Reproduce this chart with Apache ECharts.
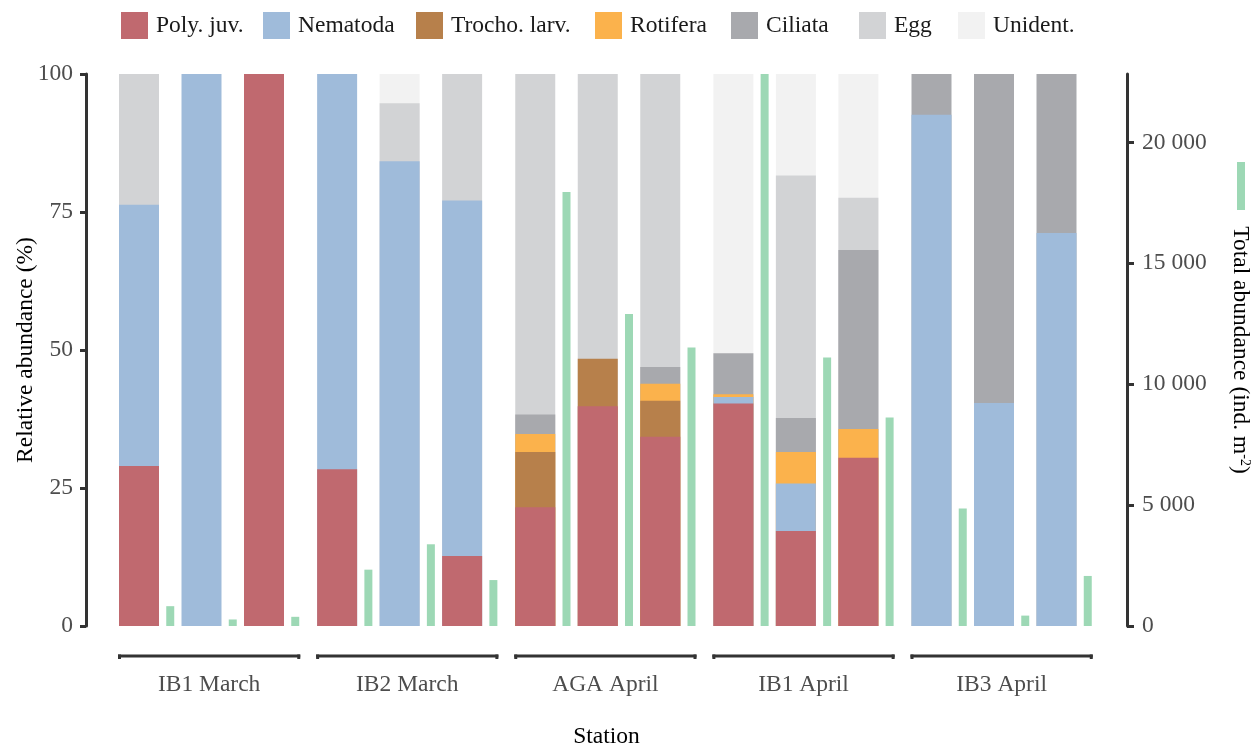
<!DOCTYPE html>
<html>
<head>
<meta charset="utf-8">
<script src="https://cdn.jsdelivr.net/npm/echarts@6/dist/echarts.min.js"></script>
<style>
html,body{margin:0;padding:0;background:#fff;overflow:hidden;}
#chart{width:1260px;height:747px;}
</style>
</head>
<body>
<div id="chart"></div>
<script>
// ---- data ----
const stations = ['IB1 March', 'IB2 March', 'AGA April', 'IB1 April', 'IB3 April'];
const replicatesPerStation = 3;
const taxa = ['Poly. juv.', 'Nematoda', 'Trocho. larv.', 'Rotifera', 'Ciliata', 'Egg', 'Unident.'];
// relative abundance (%) per bar, station-major (3 replicates each)
const polyJuv   = [29.0, 0, 100,   28.4, 0, 12.7,   21.5, 39.8, 34.3,   40.3, 17.2, 30.5,   0, 0, 0];
const nematoda  = [47.3, 100, 0,   71.6, 84.2, 64.4, 0, 0, 0,           1.2, 8.6, 0,        92.6, 40.4, 71.2];
const trocho    = [0, 0, 0,        0, 0, 0,          10.0, 8.6, 6.5,    0, 0, 0,            0, 0, 0];
const rotifera  = [0, 0, 0,        0, 0, 0,          3.3, 0, 3.1,       0.5, 5.7, 5.2,      0, 0, 0];
const ciliata   = [0, 0, 0,        0, 0, 0,          3.5, 0, 3.0,       7.4, 6.2, 32.4,     7.4, 59.6, 28.8];
const egg       = [23.7, 0, 0,     0, 10.5, 22.9,    61.7, 51.6, 53.1,  0, 43.9, 9.5,       0, 0, 0];
const unident   = [0, 0, 0,        0, 5.3, 0,        0, 0, 0,           50.6, 18.4, 22.5,   0, 0, 0];
// total abundance (ind. m-2)
const totalAbundance = [820, 270, 380, 2330, 3380, 1900, 17950, 12900, 11520, 22830, 11100, 8620, 4860, 430, 2070];
const rightTicks = [0, 5000, 10000, 15000, 20000];
const leftTicks = [0, 25, 50, 75, 100];

// ---- styles / layout ----
const taxaValues = [polyJuv, nematoda, trocho, rotifera, ciliata, egg, unident];
const taxaColors = ['#C0696F', '#9FBBDA', '#B7804B', '#FBB24C', '#A8A9AD', '#D2D3D5', '#F2F2F2'];
const legendLefts = [121, 263, 416, 595, 731, 859, 958];
const greenColor = '#9DD8B5';
const FONT = 'Liberation Serif';
const FS = 23.5;
const UNIT = 1000;               // axis units per replicate slot
const GROUP_PITCH = 3170;        // axis units between station groups
const GREEN_OFFSET = 500;        // stacked bar -> total bar
const BAR_W = 40, GREEN_W = 8;
const X_MIN = -848, X_MAX = 15808;

function pos(i) {
  const g = Math.floor(i / replicatesPerStation), r = i % replicatesPerStation;
  return g * GROUP_PITCH + r * UNIT;
}
const fmtThousands = v => String(v).replace(/\B(?=(\d{3})+(?!\d))/g, ' ');
const totalMax = Math.max(...totalAbundance);

// cumulative tops of each layer (stack built from the taxa arrays)
const cumulative = [];
taxaValues.forEach((arr, k) => {
  cumulative.push(arr.map((v, i) => v + (k > 0 ? cumulative[k - 1][i] : 0)));
});

// draw from the top layer down so lower layers paint over; all overlap in one column
const series = [];
for (let k = taxa.length - 1; k >= 0; k--) {
  series.push({
    name: taxa[k],
    type: 'bar',
    xAxisIndex: 0,
    yAxisIndex: 0,
    barWidth: BAR_W,
    barGap: '-100%',
    itemStyle: { color: taxaColors[k] },
    emphasis: { disabled: true },
    data: cumulative[k].map((v, i) => [pos(i), taxaValues[k][i] > 0 ? v : '-'])
  });
}

series.push({
  name: 'Total abundance',
  type: 'bar',
  xAxisIndex: 1,
  yAxisIndex: 1,
  barWidth: GREEN_W,
  itemStyle: { color: greenColor },
  emphasis: { disabled: true },
  data: totalAbundance.map((v, i) => [pos(i) + GREEN_OFFSET, v])
});

// brackets + station labels under each group
series.push({
  type: 'custom',
  xAxisIndex: 1,
  yAxisIndex: 0,
  clip: false,
  silent: true,
  data: stations.map((s, g) => [X_MIN, 0, g]),
  renderItem: function (params, api) {
    const g = api.value(2);
    const first = g * replicatesPerStation, last = first + replicatesPerStation - 1;
    const p0 = api.coord([pos(first), 0]);
    const p1 = api.coord([pos(last) + GREEN_OFFSET, 0]);
    const x1 = p0[0] - BAR_W / 2 - 1;
    const x2 = p1[0] + GREEN_W / 2 + 1;
    const y = p0[1] + 30;
    const ls = { stroke: '#333333', lineWidth: 3 };
    return {
      type: 'group',
      children: [
        { type: 'line', shape: { x1: x1, y1: y, x2: x2, y2: y }, style: ls },
        { type: 'line', shape: { x1: x1 + 1.5, y1: y - 1.5, x2: x1 + 1.5, y2: y + 3 }, style: ls },
        { type: 'line', shape: { x1: x2 - 1.5, y1: y - 1.5, x2: x2 - 1.5, y2: y + 3 }, style: ls },
        { type: 'text', x: (x1 + x2) / 2, y: y + 29,
          style: { text: stations[g], font: FS + 'px "' + FONT + '"', fill: '#4D4D4D', align: 'center', verticalAlign: 'middle' } }
      ]
    };
  }
});

const legends = taxa.map((name, k) => ({
  data: [name],
  left: legendLefts[k], top: 12,
  padding: 0,
  itemWidth: 27, itemHeight: 27,
  icon: 'rect',
  selectedMode: false,
  textStyle: { fontSize: FS, fontFamily: FONT, color: '#1A1A1A', padding: [0, 0, 0, 3] }
}));
legends.push({
  data: ['Total abundance'],
  left: 1237, top: 162,
  padding: 0,
  itemWidth: 8, itemHeight: 48,
  icon: 'rect',
  selectedMode: false,
  formatter: () => '',
  textStyle: { fontSize: 1 }
});

const chart = echarts.init(document.getElementById('chart'), null, { renderer: 'canvas' });
chart.setOption({
  animation: false,
  backgroundColor: '#ffffff',
  textStyle: { fontFamily: FONT },
  grid: { left: 86, right: 133, top: 74, bottom: 121, containLabel: false, outerBoundsMode: 'none' },
  legend: legends,
  xAxis: [
    {
      type: 'value', min: X_MIN, max: X_MAX,
      axisLine: { show: false }, axisTick: { show: false }, axisLabel: { show: false },
      splitLine: { show: false },
      name: 'Station', nameLocation: 'middle', nameGap: 99,
      nameTextStyle: { fontSize: FS, fontFamily: FONT, color: '#000' }
    },
    {
      type: 'value', min: X_MIN, max: X_MAX, show: false
    }
  ],
  yAxis: [
    {
      type: 'value', min: 0, max: 100, interval: 25,
      position: 'left',
      axisLine: { show: true, onZero: false, lineStyle: { color: '#333333', width: 3 } },
      axisTick: { show: true, length: 6, lineStyle: { color: '#333333', width: 3 } },
      axisLabel: { color: '#4D4D4D', fontSize: FS, fontFamily: FONT, margin: 13,
                   customValues: leftTicks },
      splitLine: { show: false },
      name: 'Relative abundance (%)', nameLocation: 'middle', nameGap: 48, nameRotate: 90,
      nameMoveOverlap: false,
      nameTextStyle: { fontSize: FS, fontFamily: FONT, color: '#000' }
    },
    {
      type: 'value', min: 0, max: totalMax,
      position: 'right',
      axisLine: { show: true, onZero: false, lineStyle: { color: '#333333', width: 3 } },
      axisTick: { show: true, length: 7, lineStyle: { color: '#333333', width: 3 }, customValues: rightTicks },
      axisLabel: { color: '#4D4D4D', fontSize: FS, fontFamily: FONT, margin: 15,
                   customValues: rightTicks, formatter: v => fmtThousands(v) },
      splitLine: { show: false },
      name: 'Total abundance (ind. m{sup|-2})', nameLocation: 'middle', nameGap: 101, nameRotate: -90,
      nameTextStyle: {
        fontSize: FS, fontFamily: FONT, color: '#000',
        rich: { sup: { fontSize: 14, fontFamily: FONT, color: '#000', verticalAlign: 'top', padding: [0, 0, 8, 0] } }
      }
    }
  ],
  series: series
});
</script>
</body>
</html>
